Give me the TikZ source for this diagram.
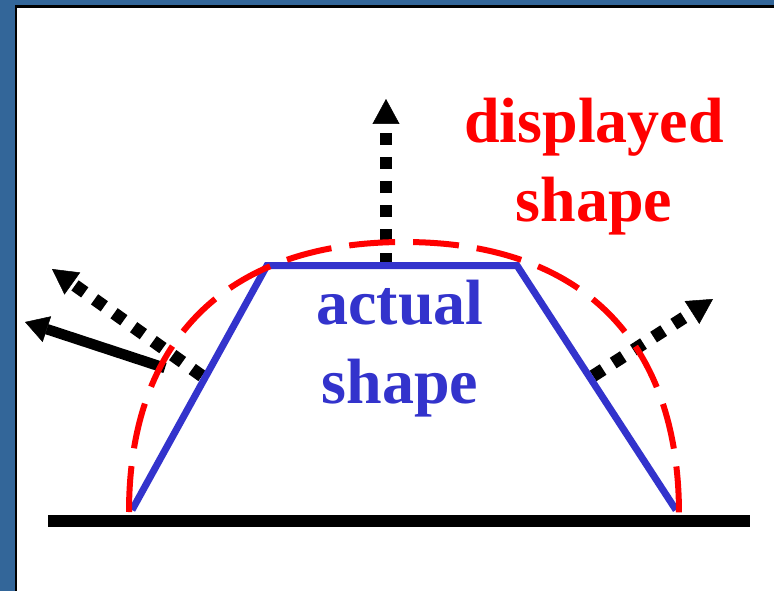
\documentclass[tikz,border=0pt]{standalone}
\usepackage{fontspec}
\setmainfont{Liberation Serif}
\usetikzlibrary{arrows.meta}
\definecolor{framebg}{RGB}{51,102,153}
\definecolor{actualcol}{RGB}{51,51,204}
\definecolor{displaycol}{RGB}{255,0,0}

\begin{document}
\begin{tikzpicture}[
        x=1pt, y=-1pt,
        actual/.style={draw=actualcol, line width=7pt},
        displayed/.style={draw=displaycol, line width=6pt, dash pattern=on 46pt off 18pt},
        dotarrow/.style={-{Triangle[length=25pt, width=27pt, line width=0.5pt]}, line width=12.5pt, dash pattern=on 12pt off 12pt},
        solidarrow/.style={-{Triangle[length=23pt, width=27pt, line width=0.5pt]}, line width=10.5pt},
        ground/.style={line width=12pt},
        bigtext/.style={font=\fontsize{64}{79}\selectfont\bfseries, align=center, inner sep=0pt}
    ]
    \useasboundingbox (0,0) rectangle (774,591);

    %% --- Slide frame ---
    \fill[framebg] (0,0) rectangle (774,591);
    \fill[white] (17,8) rectangle (774,591);
    \draw[line width=2.5pt] (15.75,591) -- (15.75,6.75) -- (774,6.75);

    %% --- Corners of the real shape and the ground ---
    \coordinate (bl) at (132,510);
    \coordinate (tl) at (267,265.5);
    \coordinate (tr) at (517,265.5);
    \coordinate (br) at (676,510);
    \coordinate (gl) at (48,521);
    \coordinate (gr) at (750,521);

    %% --- Emission directions ---
    \coordinate (upS)    at (386,265);
    \coordinate (upE)    at (386,99);
    \coordinate (leftS)  at (202,376);
    \coordinate (leftE)  at (52,269);
    \coordinate (solidS) at (165,368);
    \coordinate (solidE) at (25,322);
    \coordinate (rightS) at (593,376);
    \coordinate (rightE) at (713,299);

    \draw[dotarrow]   (upS) -- (upE);
    \draw[dotarrow]   (leftS) -- (leftE);
    \draw[solidarrow] (solidS) -- (solidE);
    \draw[dotarrow]   (rightS) -- (rightE);

    %% --- Ground ---
    \draw[ground] (gl) -- (gr);

    %% --- Actual shape ---
    \draw[actual] (bl) -- (tl) -- (tr) -- (br);

    %% --- Displayed shape (rounded) ---
    \coordinate (dl) at (129,512);
    \coordinate (dtop) at (404,242);
    \coordinate (dr) at (679,514);
    \draw[displayed] (dl) .. controls (129,339) and (228,242) .. (dtop)
                          .. controls (580,242) and (679,339) .. (dr);

    %% --- Labels (base = last line) ---
    \node[bigtext, text=displaycol, anchor=base] (dispLabel) at (594,222) {displayed\\shape};
    \node[bigtext, text=actualcol, anchor=base] (actLabel) at (400,403) {actual\\shape};

\end{tikzpicture}
\end{document}
